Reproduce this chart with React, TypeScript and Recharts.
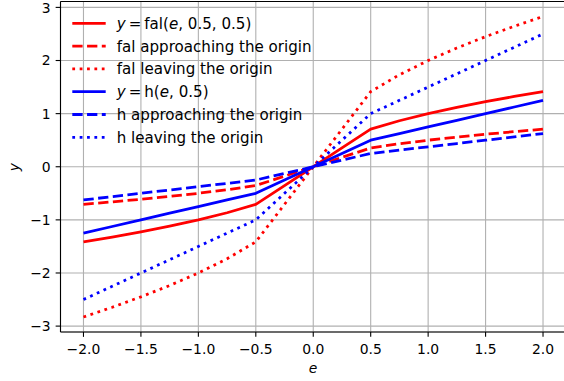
import React from 'react';
import { LineChart, Line, XAxis, YAxis, CartesianGrid, ReferenceLine } from 'recharts';

// sample points along e
const eValues = [-2, -1.75, -1.5, -1.25, -1, -0.75, -0.5, -0.25, 0, 0.25, 0.5, 0.75, 1, 1.25, 1.5, 1.75, 2];

// fal(e, 0.5, 0.5) and its scaled versions
const falSolid = [-1.414, -1.323, -1.225, -1.118, -1.0, -0.866, -0.707, -0.354, 0, 0.354, 0.707, 0.866, 1.0, 1.118, 1.225, 1.323, 1.414];
const falApproach = [-0.707, -0.661, -0.612, -0.559, -0.5, -0.433, -0.354, -0.177, 0, 0.177, 0.354, 0.433, 0.5, 0.559, 0.612, 0.661, 0.707];
const falLeave = [-2.828, -2.646, -2.449, -2.236, -2.0, -1.732, -1.414, -0.707, 0, 0.707, 1.414, 1.732, 2.0, 2.236, 2.449, 2.646, 2.828];

// h(e, 0.5) and its scaled versions
const hSolid = [-1.25, -1.125, -1.0, -0.875, -0.75, -0.625, -0.5, -0.25, 0, 0.25, 0.5, 0.625, 0.75, 0.875, 1.0, 1.125, 1.25];
const hApproach = [-0.625, -0.5625, -0.5, -0.4375, -0.375, -0.3125, -0.25, -0.125, 0, 0.125, 0.25, 0.3125, 0.375, 0.4375, 0.5, 0.5625, 0.625];
const hLeave = [-2.5, -2.25, -2.0, -1.75, -1.5, -1.25, -1.0, -0.5, 0, 0.5, 1.0, 1.25, 1.5, 1.75, 2.0, 2.25, 2.5];

const xTicks = [-2, -1.5, -1, -0.5, 0, 0.5, 1, 1.5, 2];
const yTicks = [-3, -2, -1, 0, 1, 2, 3];

const data = eValues.map((e, i) => ({
  e,
  falSolid: falSolid[i],
  falApproach: falApproach[i],
  falLeave: falLeave[i],
  hSolid: hSolid[i],
  hApproach: hApproach[i],
  hLeave: hLeave[i],
}));

const FONT = 'DejaVu Sans';
const FS = 13.9;
const LEGEND_FS = 15.1;
const LW = 2.78;
const DASHED = '10.3 4.45';
const DOTTED = '2.78 4.59';
const THIN = '\u2009';

const minus = (s: string) => s.replace('-', '\u2212');

const legendRows = [
  { color: '#ff0000', dash: undefined, label: 'falMath' },
  { color: '#ff0000', dash: DASHED, label: 'fal approaching the origin' },
  { color: '#ff0000', dash: DOTTED, label: 'fal leaving the origin' },
  { color: '#0000ff', dash: undefined, label: 'hMath' },
  { color: '#0000ff', dash: DASHED, label: 'h approaching the origin' },
  { color: '#0000ff', dash: DOTTED, label: 'h leaving the origin' },
];

const renderLabel = (label: string) => {
  if (label === 'falMath') {
    return (
      <>
        <tspan fontStyle="italic">y</tspan>
        <tspan>{`${THIN}=${THIN}fal(`}</tspan>
        <tspan fontStyle="italic">e</tspan>
        <tspan>, 0.5, 0.5)</tspan>
      </>
    );
  }
  if (label === 'hMath') {
    return (
      <>
        <tspan fontStyle="italic">y</tspan>
        <tspan>{`${THIN}=${THIN}h(`}</tspan>
        <tspan fontStyle="italic">e</tspan>
        <tspan>, 0.5)</tspan>
      </>
    );
  }
  return label;
};

export default function App() {
  return (
    <div style={{ position: 'absolute', left: 0, top: 0, width: 564, height: 381, overflow: 'hidden', background: '#fff' }}>
      <LineChart width={570} height={381} data={data} margin={{ top: 1.5, right: 4, left: 0, bottom: 0 }}>
        <CartesianGrid stroke="#b0b0b0" strokeWidth={1.1} />
        <XAxis
          dataKey="e"
          type="number"
          domain={[-2.2, 2.2]}
          ticks={xTicks}
          allowDataOverflow
          height={49}
          tickSize={4.86}
          tickMargin={7}
          axisLine={{ stroke: '#000', strokeWidth: 1.1 }}
          tickLine={{ stroke: '#000', strokeWidth: 1.1 }}
          tick={{ fill: '#000', fontFamily: FONT, fontSize: FS }}
          tickFormatter={(v: number) => minus(v.toFixed(1))}
        />
        <YAxis
          type="number"
          domain={[-3.111, 3.111]}
          ticks={yTicks}
          allowDataOverflow
          width={60.5}
          tickSize={4.86}
          tickMargin={5}
          axisLine={{ stroke: '#000', strokeWidth: 1.1 }}
          tickLine={{ stroke: '#000', strokeWidth: 1.1 }}
          tick={{ fill: '#000', fontFamily: FONT, fontSize: FS }}
          tickFormatter={(v: number) => minus(String(v))}
        />
        <ReferenceLine y={3.111} stroke="#000" strokeWidth={1.1} />
        <ReferenceLine x={2.2} stroke="#000" strokeWidth={1.1} />
        <Line dataKey="falSolid" stroke="#ff0000" strokeWidth={LW} dot={false} activeDot={false} isAnimationActive={false} strokeLinejoin="round" />
        <Line dataKey="falApproach" stroke="#ff0000" strokeWidth={LW} strokeDasharray={DASHED} dot={false} activeDot={false} isAnimationActive={false} />
        <Line dataKey="falLeave" stroke="#ff0000" strokeWidth={LW} strokeDasharray={DOTTED} dot={false} activeDot={false} isAnimationActive={false} />
        <Line dataKey="hSolid" stroke="#0000ff" strokeWidth={LW} dot={false} activeDot={false} isAnimationActive={false} strokeLinejoin="round" />
        <Line dataKey="hApproach" stroke="#0000ff" strokeWidth={LW} strokeDasharray={DASHED} dot={false} activeDot={false} isAnimationActive={false} />
        <Line dataKey="hLeave" stroke="#0000ff" strokeWidth={LW} strokeDasharray={DOTTED} dot={false} activeDot={false} isAnimationActive={false} />
      </LineChart>

      {/* legend (no frame) and axis titles drawn on top */}
      <svg width={564} height={381} style={{ position: 'absolute', left: 0, top: 0, pointerEvents: 'none' }}>
        {legendRows.map((r, i) => {
          const cy = 23.3 + i * 22.8;
          return (
            <g key={i}>
              <line x1={72.3} x2={105.7} y1={cy} y2={cy} stroke={r.color} strokeWidth={LW} strokeDasharray={r.dash} />
              <text x={116.7} y={cy} dy="0.36em" fontFamily={FONT} fontSize={LEGEND_FS} fill="#000">
                {renderLabel(r.label)}
              </text>
            </g>
          );
        })}
        <text x={313} y={368} dy="0.36em" textAnchor="middle" fontFamily={FONT} fontSize={FS} fontStyle="italic" fill="#000">e</text>
        <text x={13.5} y={167} dy="0.36em" textAnchor="middle" fontFamily={FONT} fontSize={FS} fontStyle="italic" fill="#000" transform="rotate(-90 13.5 167)">y</text>
      </svg>
    </div>
  );
}
